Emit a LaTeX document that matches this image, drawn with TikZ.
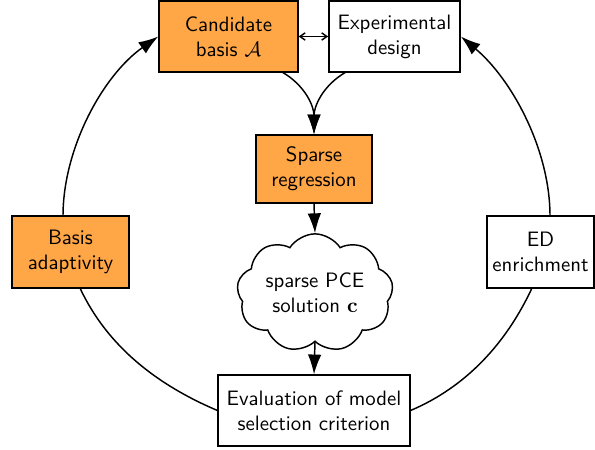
\documentclass[tikz,border=0pt]{standalone}
\usepackage{amsmath}
\usetikzlibrary{shapes.symbols,arrows.meta}
\definecolor{boxorange}{RGB}{255,166,71}
\begin{document}
\begin{tikzpicture}[x=0.48pt,y=-0.48pt,
  font=\sffamily,
  every path/.style={line width=0.7pt},
  box/.style={draw=black,line width=0.7pt,align=center,inner sep=2pt,minimum height=34pt},
  obox/.style={box,fill=boxorange},
  wbox/.style={box,fill=white},
  arr/.style={-{Latex[length=9.5pt,width=6.5pt]}},
  dbl/.style={{Straight Barb[length=2.5pt,width=3.5pt]}-{Straight Barb[length=2.5pt,width=3.5pt]}}
]
\useasboundingbox (0,0) rectangle (595,450);
\node[obox,minimum width=66.7pt] (cand) at (228.5,36.5) {Candidate\\basis $\mathcal{A}$};
\node[wbox,minimum width=63pt] (exp) at (394.5,36.5) {Experimental\\design};
\node[obox,minimum width=55.7pt,minimum height=32.6pt] (sparse) at (314,169) {Sparse\\regression};
\node[draw,cloud,cloud puffs=9,cloud puff arc=115,aspect=1.5,minimum width=75pt,minimum height=48pt,inner sep=1pt,align=center,fill=white] (cloud) at (315,293) {sparse PCE\\solution $\mathbf{c}$};
\node[wbox,minimum width=92pt] (eval) at (314,410.5) {Evaluation of model\\selection criterion};
\node[obox,minimum width=56pt,minimum height=34.5pt] (basis) at (70.5,252) {Basis\\adaptivity};
\node[wbox,minimum width=51.5pt,minimum height=34.5pt] (ed) at (540.5,252) {ED\\enrichment};

\draw[dbl] (cand.east) -- (exp.east -| exp.west);
\coordinate (cs) at (282,72);
\coordinate (es) at (346,72);
\draw[arr] (cs) to[out=-30,in=90] (sparse.north);
\draw[arr] (es) to[out=-150,in=90] (sparse.north);
\draw[arr] (sparse.south) -- (cloud.north);
\draw[arr] (cloud.south) -- (eval.north);

\coordinate (bt) at (63,216);
\coordinate (bb) at (80,288);
\coordinate (et) at (550,216);
\coordinate (eb) at (532,288);
\draw[arr] (bt) to[out=90,in=-145,looseness=0.85] (cand.west);
\draw (bb) to[out=-65,in=157,looseness=0.9] (eval.west);
\draw (eval.east) to[out=23,in=-115,looseness=0.9] (eb);
\draw[arr] (et) to[out=90,in=-40,looseness=0.85] (exp.east);
\end{tikzpicture}
\end{document}
